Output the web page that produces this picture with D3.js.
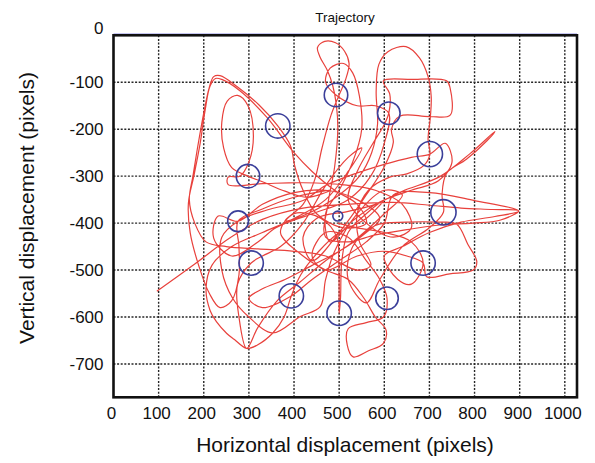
<!DOCTYPE html>
<html><head><meta charset="utf-8">
<script src="https://cdn.jsdelivr.net/npm/d3@7"></script>
<style>body{margin:0;background:#fff;} text{font-family:"Liberation Sans",Arial,Helvetica,sans-serif;fill:#111;}</style>
</head><body><svg id="c" width="595" height="463"></svg>
<script>
// ---- data ----
const titleText = "Trajectory";
const xLabel = "Horizontal displacement (pixels)";
const yLabel = "Vertical displacement (pixels)";
const xTicks = [0,100,200,300,400,500,600,700,800,900,1000];
const yTicks = [0,-100,-200,-300,-400,-500,-600,-700];
const xDomain = [0,1027];
const yDomain = [0,-771];
// targets: [x, y, radius] in data units
const targets = [
  [493,-127,26],[364,-193,27],[610,-166,25],[701,-253,28],[298,-300,26],
  [731,-377,28],[276,-396,23],[497,-385,11],[305,-485,27],[686,-485,27],
  [394,-555,27],[606,-560,25],[500,-592,27]
];
// trajectory, as consecutive segments
const seg01 = [[96,-545],[180,-487],[260,-430],[330,-392],[420,-368],[520,-360],[620,-356],[700,-362],[770,-368],[840,-371],[898,-374],[856,-394],[796,-400],[723,-404],[650,-414],[580,-425],[520,-440],[470,-430]];
const seg02 = [[475,-360],[490,-280],[497,-200],[494,-150],[486,-108],[474,-75],[457,-45],[452,-26],[468,-13],[492,-16],[512,-34],[522,-60],[514,-95],[500,-127],[482,-170],[462,-240],[445,-310],[420,-360],[380,-395]];
const seg03 = [[430,-380],[500,-340],[545,-300],[572,-250],[585,-190],[582,-120],[588,-62],[608,-35],[648,-24],[678,-48],[697,-88],[704,-131],[702,-175],[697,-222],[701,-253],[688,-277],[650,-295],[612,-302],[565,-330],[540,-380],[545,-440],[570,-490]];
const seg04 = [[540,-500],[470,-470],[400,-460],[320,-455],[250,-450],[205,-440],[180,-400],[168,-350],[176,-300],[187,-235],[200,-165],[212,-112],[222,-88],[236,-86],[275,-110],[322,-148],[364,-193],[392,-235],[402,-280],[420,-330],[450,-380],[510,-410],[560,-400]];
const seg05 = [[540,-360],[490,-330],[440,-290],[400,-250],[340,-175],[280,-118],[240,-94],[226,-92],[214,-108],[203,-160],[192,-230],[178,-300],[166,-357],[170,-421],[190,-494],[212,-549],[236,-580],[262,-565],[278,-510],[278,-450],[276,-396],[330,-370],[400,-345],[480,-330]];
const seg06 = [[430,-345],[380,-332],[330,-312],[298,-300],[262,-282],[244,-240],[240,-185],[252,-140],[275,-128],[298,-150],[310,-215],[300,-270],[280,-300],[254,-302],[254,-318],[330,-316],[420,-314],[517,-319],[580,-330],[640,-360],[660,-410]];
const seg07 = [[620,-430],[560,-400],[520,-350],[540,-290],[575,-230],[600,-190],[610,-166],[612,-125],[598,-97],[660,-94],[738,-97],[746,-113],[746,-170],[700,-173],[635,-172],[616,-200],[620,-228],[600,-280],[560,-340],[500,-420],[440,-480]];
const seg08 = [[420,-430],[450,-390],[520,-375],[580,-360],[640,-332],[723,-301],[790,-252],[845,-205],[828,-224],[782,-264],[738,-294],[728,-340],[731,-377],[700,-410],[640,-450],[590,-520],[560,-570]];
const seg09 = [[520,-520],[530,-450],[580,-405],[650,-398],[720,-398],[760,-402],[785,-445],[805,-482],[797,-500],[745,-508],[694,-514],[686,-485],[650,-470],[600,-460],[540,-470],[470,-500]];
const seg10 = [[440,-470],[470,-420],[520,-430],[560,-480],[590,-520],[606,-560],[598,-600],[560,-612],[520,-625],[518,-660],[531,-685],[565,-672],[598,-656],[604,-628],[580,-600],[555,-560],[520,-520],[470,-500],[420,-470],[370,-420]];
const seg11 = [[400,-380],[460,-390],[495,-430],[499,-480],[500,-540],[500,-592],[503,-560],[506,-480],[520,-420],[560,-380],[600,-350]];
const seg12 = [[560,-390],[500,-420],[455,-460],[415,-510],[394,-555],[378,-600],[353,-634],[318,-660],[295,-667],[268,-648],[251,-635],[228,-610],[214,-586],[205,-540],[218,-490],[262,-450],[330,-420],[400,-390],[470,-350],[520,-290],[550,-240]];
const seg13 = [[520,-260],[470,-320],[420,-400],[370,-450],[330,-470],[305,-485],[275,-530],[278,-600],[295,-667],[320,-622],[362,-566],[414,-525],[470,-480],[530,-440],[600,-380],[640,-340]];
const seg14 = [[600,-330],[540,-380],[490,-460],[470,-520],[458,-578],[414,-599],[353,-634],[300,-600],[264,-560],[240,-500],[240,-430],[276,-396],[340,-372],[420,-352],[470,-320]];
const seg15 = [[520,-300],[600,-275],[660,-260],[701,-253],[735,-230],[750,-270],[720,-310],[660,-330],[590,-355],[530,-395],[480,-440]];
const seg16 = [[470,-380],[500,-330],[530,-270],[550,-200],[545,-130],[530,-80],[510,-60],[480,-70],[470,-100],[493,-127],[540,-150],[580,-150],[610,-166],[600,-230],[570,-300],[520,-350],[440,-380],[360,-410]];
const seg17 = [[320,-440],[262,-470],[222,-432],[232,-385],[276,-396],[330,-360],[400,-335],[470,-330],[540,-350],[590,-390]];
const seg18 = [[560,-420],[500,-460],[440,-490],[380,-520],[330,-540],[300,-560],[330,-580],[394,-555],[440,-520],[500,-480],[560,-440]];
const seg19 = [[600,-400],[620,-340],[700,-335],[800,-352],[898,-374],[845,-386],[770,-398],[700,-420],[640,-450]];
const seg20 = [[600,-470],[630,-520],[660,-530],[686,-485],[660,-440],[600,-420],[540,-410],[497,-400]];
const segments = [seg01,seg02,seg03,seg04,seg05,seg06,seg07,seg08,seg09,seg10,seg11,seg12,seg13,seg14,seg15,seg16,seg17,seg18,seg19,seg20];

// ---- drawing ----
const svg = d3.select("#c");
const x = d3.scaleLinear().domain(xDomain).range([113.5,577]);
const y = d3.scaleLinear().domain(yDomain).range([35.3,397.3]);
const [L,R] = x.range(), [T,B] = y.range();

svg.append("defs").append("clipPath").attr("id","clip")
  .append("rect").attr("x",L).attr("y",T).attr("width",R-L).attr("height",B-T);

// grid
const grid = svg.append("g").attr("stroke","#262626").attr("stroke-width",1.4).attr("stroke-dasharray","2,1.6");
grid.selectAll(".vx").data(xTicks.filter(d=>d>0)).join("line")
  .attr("x1",d=>x(d)).attr("x2",d=>x(d)).attr("y1",T).attr("y2",B);
grid.selectAll(".hy").data(yTicks.filter(d=>d<0)).join("line")
  .attr("y1",d=>y(d)).attr("y2",d=>y(d)).attr("x1",L).attr("x2",R);

// trajectory
const pts = segments.flat();
const line = d3.line().x(d=>x(d[0])).y(d=>y(d[1])).curve(d3.curveCatmullRom.alpha(0.5));
svg.append("path").datum(pts).attr("d",line).attr("fill","none")
  .attr("stroke","#e8413c").attr("stroke-width",1.2).attr("stroke-linejoin","round")
  .attr("clip-path","url(#clip)");

// targets
svg.selectAll(".tg").data(targets).join("circle")
  .attr("cx",d=>x(d[0])).attr("cy",d=>y(d[1])).attr("r",d=>x(d[2])-x(0))
  .attr("fill","none").attr("stroke","#3b3f9a").attr("stroke-width",1.6);

// frame
svg.append("line").attr("x1",L).attr("x2",R).attr("y1",T-1.6).attr("y2",T-1.6)
  .attr("stroke","#9a9ae6").attr("stroke-width",1).attr("opacity",0.7);
svg.append("rect").attr("x",L).attr("y",T).attr("width",R-L).attr("height",B-T)
  .attr("fill","none").attr("stroke","#111").attr("stroke-width",2.6);

// tick labels
svg.append("g").selectAll("text").data(xTicks).join("text")
  .attr("x",d=>x(d)-2).attr("y",B+22).attr("text-anchor","middle")
  .attr("font-size",17).text(d=>d);
svg.append("g").selectAll("text").data(yTicks).join("text")
  .attr("x",L-10).attr("y",d=>y(d)+6 - (d===0?7:0)).attr("text-anchor","end")
  .attr("font-size",17).text(d=>d);

// titles
svg.append("text").attr("x",345).attr("y",22).attr("text-anchor","middle")
  .attr("font-size",13.5).text(titleText);
svg.append("text").attr("x",345).attr("y",452).attr("text-anchor","middle")
  .attr("font-size",21).text(xLabel);
svg.append("text").attr("transform","translate(34,208) rotate(-90)").attr("text-anchor","middle")
  .attr("font-size",21).text(yLabel);
</script></body></html>
